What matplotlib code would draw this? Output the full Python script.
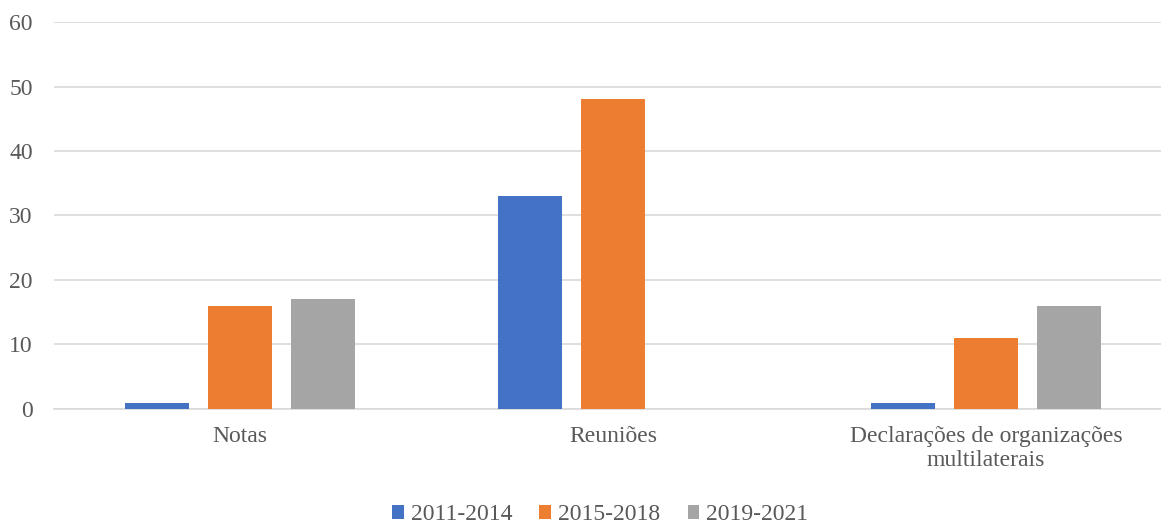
import matplotlib.pyplot as plt
import numpy as np

plt.rcParams['font.family'] = ['Liberation Serif', 'DejaVu Serif']

categories = ['Notas', 'Reuniões', 'Declarações de organizações\nmultilaterais']
periods = ['2011-2014', '2015-2018', '2019-2021']
v_2011_2014 = [1, 33, 1]
v_2015_2018 = [16, 48, 11]
v_2019_2021 = [17, 0, 16]
colors = ['#4472C4', '#ED7D31', '#A5A5A5']
text_color = '#595959'

fig = plt.figure(figsize=(11.61, 5.24), dpi=100)
ax = fig.add_axes([0.0461, 0.2195, 0.9638, 0.7385])

x = np.arange(len(categories))
width = 0.174
step = 0.2225
for i, (vals, lab, c) in enumerate(zip([v_2011_2014, v_2015_2018, v_2019_2021], periods, colors)):
    ax.bar(x + (i - 1) * step, vals, width, color=c, label=lab, zorder=3)

ax.set_xlim(-0.5, 2.5)
ax.set_ylim(0, 60)
ax.set_yticks(range(0, 61, 10))
ax.yaxis.grid(True, color='#D9D9D9', linewidth=1.2, zorder=0)
for s in ['top', 'right', 'left']:
    ax.spines[s].set_visible(False)
ax.spines['bottom'].set_color('#D9D9D9')
ax.spines['bottom'].set_linewidth(1.2)
ax.tick_params(axis='both', length=0, labelsize=17, labelcolor=text_color)
ax.tick_params(axis='y', pad=15)
ax.tick_params(axis='x', pad=12)
ax.set_xticks(x)
ax.set_xticklabels(categories, linespacing=1.2)

leg = fig.legend(loc='lower center', bbox_to_anchor=(0.517, -0.043), ncol=3, frameon=False,
                 fontsize=17, handlelength=0.5, handleheight=0.5, handletextpad=0.3,
                 columnspacing=1.15)
for t in leg.get_texts():
    t.set_color(text_color)

fig.savefig('out.png', dpi=100)
